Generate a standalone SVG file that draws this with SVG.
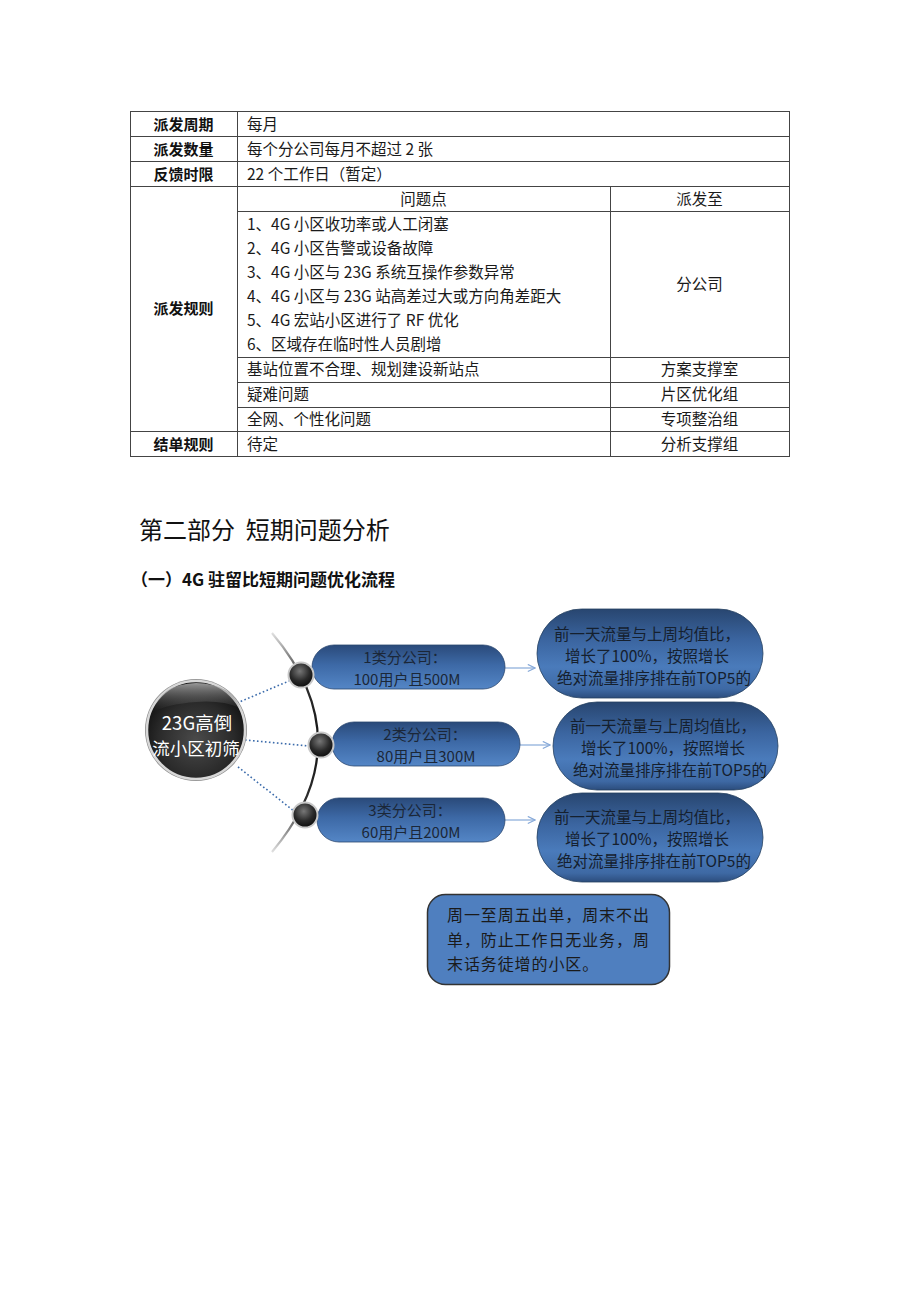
<svg xmlns="http://www.w3.org/2000/svg" width="920" height="1302" viewBox="0 0 920 1302">
<style>
.t{font-family:"Noto Sans CJK SC","Noto Sans",sans-serif;font-size:15.5px;fill:#1a1a1a}
.lb{font-family:"Noto Sans CJK SC","Noto Sans",sans-serif;font-size:15px;font-weight:bold;fill:#111;text-anchor:middle}
.c{text-anchor:middle}
.grid{stroke:#444;stroke-width:1;fill:none}
.pt{font-family:"Noto Sans CJK SC","Noto Sans",sans-serif;font-size:15px;fill:#1b2738;text-anchor:middle}
.ot{font-family:"Noto Sans CJK SC","Noto Sans",sans-serif;font-size:15.5px;fill:#15202e;text-anchor:middle}
.pill{fill:url(#gPill);stroke:#2a4670;stroke-width:0.8}
.oval{fill:url(#gOval);stroke:#24405f;stroke-width:0.8}
.dot{stroke:#3b6bab;stroke-width:1.6;stroke-dasharray:1.6 2.4;fill:none}
.arr{stroke:#86a9d8;stroke-width:1.2;fill:none;marker-end:url(#mArr)}
.bul{fill:url(#gBul);stroke:#c8c8c8;stroke-width:2}
</style>
<defs>
<linearGradient id="gPill" x1="0" y1="0" x2="0" y2="1">
<stop offset="0" stop-color="#2a4a7a"/><stop offset="0.45" stop-color="#3d69a6"/><stop offset="1" stop-color="#5486c6"/>
</linearGradient>
<linearGradient id="gOval" x1="0" y1="0" x2="0" y2="1">
<stop offset="0" stop-color="#284670"/><stop offset="0.35" stop-color="#3b65a0"/><stop offset="0.65" stop-color="#4a7bbb"/><stop offset="0.9" stop-color="#3e69a4"/><stop offset="1" stop-color="#2c4d7d"/>
</linearGradient>
<radialGradient id="gBig" cx="0.5" cy="0.6" r="0.55">
<stop offset="0" stop-color="#4a4a4a"/><stop offset="0.7" stop-color="#2a2a2a"/><stop offset="1" stop-color="#151515"/>
</radialGradient>
<linearGradient id="gHi" x1="0" y1="0" x2="0" y2="1">
<stop offset="0" stop-color="#b0b0b0" stop-opacity="0.85"/><stop offset="1" stop-color="#555" stop-opacity="0"/>
</linearGradient>
<radialGradient id="gBul" cx="0.45" cy="0.35" r="0.65">
<stop offset="0" stop-color="#777"/><stop offset="0.6" stop-color="#2a2a2a"/><stop offset="1" stop-color="#0d0d0d"/>
</radialGradient>
<linearGradient id="gArc" gradientUnits="userSpaceOnUse" x1="0" y1="633" x2="0" y2="852">
<stop offset="0" stop-color="#e0e0e0"/><stop offset="0.2" stop-color="#333"/><stop offset="0.5" stop-color="#111"/><stop offset="0.8" stop-color="#333"/><stop offset="1" stop-color="#e0e0e0"/>
</linearGradient>
<marker id="mArr" viewBox="0 0 10 10" refX="9" refY="5" markerWidth="9" markerHeight="9" markerUnits="userSpaceOnUse" orient="auto">
<path d="M1,1 L9,5 L1,9" fill="none" stroke="#86a9d8" stroke-width="1.3"/>
</marker>
</defs>
<rect width="920" height="1302" fill="#fff"/>

<g id="table">
<rect class="grid" x="130.5" y="111.5" width="659" height="345"/>
<path class="grid" d="M130,136.5H789M130,161.5H789M130,186.5H789M237,211.5H789M237,357.5H789M237,382.5H789M237,407.5H789M130,431.5H789M237.5,111V456M610.5,186V456"/>
<text class="lb" x="183.5" y="130">派发周期</text>
<text class="lb" x="183.5" y="155">派发数量</text>
<text class="lb" x="183.5" y="180">反馈时限</text>
<text class="lb" x="183.5" y="314">派发规则</text>
<text class="lb" x="183.5" y="450">结单规则</text>
<text class="t" x="247" y="130">每月</text>
<text class="t" x="247" y="155">每个分公司每月不超过 2 张</text>
<text class="t" x="247" y="180">22 个工作日（暂定）</text>
<text class="t c" x="423.5" y="205">问题点</text>
<text class="t c" x="699.5" y="205">派发至</text>
<text class="t" x="247" y="230">1、4G 小区收功率或人工闭塞</text>
<text class="t" x="247" y="254">2、4G 小区告警或设备故障</text>
<text class="t" x="247" y="278">3、4G 小区与 23G 系统互操作参数异常</text>
<text class="t" x="247" y="302">4、4G 小区与 23G 站高差过大或方向角差距大</text>
<text class="t" x="247" y="326">5、4G 宏站小区进行了 RF 优化</text>
<text class="t" x="247" y="350">6、区域存在临时性人员剧增</text>
<text class="t c" x="699.5" y="290">分公司</text>
<text class="t" x="247" y="375">基站位置不合理、规划建设新站点</text>
<text class="t c" x="699.5" y="375">方案支撑室</text>
<text class="t" x="247" y="400">疑难问题</text>
<text class="t c" x="699.5" y="400">片区优化组</text>
<text class="t" x="247" y="425">全网、个性化问题</text>
<text class="t c" x="699.5" y="425">专项整治组</text>
<text class="t" x="247" y="450">待定</text>
<text class="t c" x="699.5" y="450">分析支撑组</text>
</g>

<g id="headings">
<text x="139" y="539" xml:space="preserve" style="font-family:'Noto Sans CJK SC',sans-serif;font-size:24px;font-weight:400;fill:#111">第二部分  短期问题分析</text>
<text x="131" y="586" style="font-family:'Noto Sans CJK SC',sans-serif;font-size:17px;font-weight:bold;fill:#111">（一）4G 驻留比短期问题优化流程</text>
</g>

<g id="connectors">
<path d="M272,633 Q364,742 272,852" fill="none" stroke="url(#gArc)" stroke-width="2.2"/>
<path class="dot" d="M237,703 L289,681"/>
<path class="dot" d="M245,740 L309,746"/>
<path class="dot" d="M238,767 L294,811"/>
<path class="arr" d="M505,668 H535"/>
<path class="arr" d="M520,745 H550"/>
<path class="arr" d="M505,820 H535"/>
</g>

<g id="node-center">
<circle cx="196" cy="730" r="51" fill="#8a8a8a"/>
<circle cx="196" cy="730" r="49" fill="url(#gBig)" stroke="#d8d8d8" stroke-width="2.5"/>
<path d="M153,712 Q160,684 196,683 Q232,684 240,708 Q222,700 196,702 Q168,704 153,712 Z" fill="url(#gHi)"/>
<text x="197" y="730" text-anchor="middle" style="font-family:'Noto Sans CJK SC',sans-serif;font-size:18.5px;fill:#fff">23G高倒</text>
<text x="196" y="755" text-anchor="middle" style="font-family:'Noto Sans CJK SC',sans-serif;font-size:17.5px;fill:#fff">流小区初筛</text>
</g>

<g id="node-pill1">
<rect class="pill" x="312" y="645" width="193" height="44" rx="22"/>
<circle class="bul" cx="301" cy="675" r="12.5"/>
<text class="pt" x="405" y="663">1类分公司：</text>
<text class="pt" x="407" y="685">100用户且500M</text>
</g>
<g id="node-pill2">
<rect class="pill" x="332" y="722" width="188" height="44" rx="22"/>
<circle class="bul" cx="321" cy="745" r="12.5"/>
<text class="pt" x="425" y="740">2类分公司：</text>
<text class="pt" x="426" y="762">80用户且300M</text>
</g>
<g id="node-pill3">
<rect class="pill" x="317" y="798" width="188" height="44" rx="22"/>
<circle class="bul" cx="305" cy="815" r="12.5"/>
<text class="pt" x="410" y="816">3类分公司：</text>
<text class="pt" x="411" y="838">60用户且200M</text>
</g>

<g id="node-oval1">
<rect class="oval" x="537" y="609" width="226" height="89" rx="44.5"/>
<text class="ot" x="647" y="640">前一天流量与上周均值比，</text>
<text class="ot" x="647" y="662">增长了100%，按照增长</text>
<text class="ot" x="654" y="684">绝对流量排序排在前TOP5的</text>
</g>
<g id="node-oval2">
<rect class="oval" x="553" y="702" width="225" height="88" rx="44"/>
<text class="ot" x="663" y="732">前一天流量与上周均值比，</text>
<text class="ot" x="663" y="754">增长了100%，按照增长</text>
<text class="ot" x="670" y="776">绝对流量排序排在前TOP5的</text>
</g>
<g id="node-oval3">
<rect class="oval" x="537" y="793" width="226" height="89" rx="44.5"/>
<text class="ot" x="647" y="823">前一天流量与上周均值比，</text>
<text class="ot" x="647" y="845">增长了100%，按照增长</text>
<text class="ot" x="654" y="867">绝对流量排序排在前TOP5的</text>
</g>

<g id="node-note">
<rect x="427.5" y="894.5" width="242" height="90" rx="18" fill="#4f7fbf" stroke="#333" stroke-width="1.5"/>
<g style="font-family:'Noto Sans CJK SC',sans-serif;font-size:16px;fill:#1a1a1a;letter-spacing:0.9px">
<text x="447" y="921">周一至周五出单，周末不出</text>
<text x="447" y="946">单，防止工作日无业务，周</text>
<text x="447" y="970">末话务徒增的小区。</text>
</g>
</g>
</svg>
